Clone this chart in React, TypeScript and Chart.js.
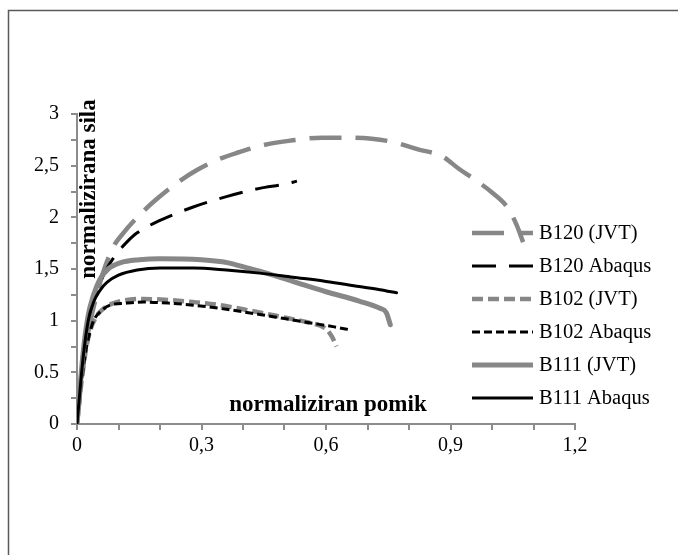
import React, { useEffect, useRef } from 'react';
import { Chart, registerables } from 'chart.js';

Chart.register(...registerables);

const seriesNames = ['B120 (JVT)', 'B120 Abaqus', 'B102 (JVT)', 'B102 Abaqus', 'B111 (JVT)', 'B111 Abaqus'];

const b120JvtX = [0, 0.01, 0.02, 0.03, 0.04, 0.05, 0.06, 0.087, 0.11, 0.15, 0.19, 0.24, 0.29, 0.34, 0.39, 0.45, 0.51, 0.59, 0.65, 0.71, 0.76, 0.82, 0.88, 0.92, 0.96, 1.0, 1.04, 1.06, 1.075];
const b120JvtY = [0, 0.4, 0.72, 0.95, 1.13, 1.28, 1.43, 1.71, 1.84, 2.02, 2.17, 2.33, 2.46, 2.56, 2.63, 2.7, 2.74, 2.77, 2.77, 2.76, 2.73, 2.66, 2.59, 2.47, 2.36, 2.24, 2.08, 1.92, 1.76];

const b120AbqX = [0, 0.015, 0.027, 0.04, 0.055, 0.07, 0.092, 0.12, 0.145, 0.2, 0.28, 0.36, 0.44, 0.5, 0.53];
const b120AbqY = [0, 0.65, 1.0, 1.2, 1.36, 1.49, 1.63, 1.76, 1.85, 1.97, 2.1, 2.2, 2.28, 2.32, 2.35];

const b102JvtX = [0, 0.01, 0.02, 0.03, 0.045, 0.065, 0.096, 0.16, 0.22, 0.28, 0.345, 0.4, 0.44, 0.5, 0.56, 0.6, 0.615, 0.625];
const b102JvtY = [0, 0.38, 0.68, 0.88, 1.03, 1.12, 1.18, 1.21, 1.2, 1.18, 1.15, 1.11, 1.08, 1.03, 0.98, 0.92, 0.84, 0.75];

const b102AbqX = [0, 0.01, 0.02, 0.03, 0.04, 0.06, 0.08, 0.12, 0.16, 0.22, 0.28, 0.36, 0.44, 0.5, 0.56, 0.62, 0.66];
const b102AbqY = [0, 0.38, 0.68, 0.87, 1.0, 1.1, 1.15, 1.17, 1.18, 1.17, 1.15, 1.11, 1.06, 1.02, 0.98, 0.94, 0.91];

const b111JvtX = [0, 0.015, 0.027, 0.04, 0.055, 0.075, 0.104, 0.15, 0.2, 0.3, 0.35, 0.375, 0.41, 0.44, 0.52, 0.6, 0.68, 0.73, 0.745, 0.755];
const b111JvtY = [0, 0.7, 1.05, 1.25, 1.4, 1.5, 1.56, 1.59, 1.6, 1.59, 1.57, 1.55, 1.51, 1.48, 1.38, 1.28, 1.19, 1.12, 1.08, 0.96];

const b111AbqX = [0, 0.015, 0.027, 0.04, 0.055, 0.072, 0.1, 0.145, 0.2, 0.28, 0.36, 0.44, 0.52, 0.6, 0.68, 0.73, 0.77];
const b111AbqY = [0, 0.65, 1.0, 1.18, 1.29, 1.37, 1.44, 1.49, 1.51, 1.51, 1.49, 1.46, 1.42, 1.38, 1.33, 1.3, 1.27];

const xTickLabels = ['0', '0,3', '0,6', '0,9', '1,2'];
const yTickLabels = ['0', '0.5', '1', '1,5', '2', '2,5', '3'];

const yTitle = 'normalizirana sila';
const xTitle = 'normaliziran pomik';

const GRAY = '#878787';
const AXIS = '#8c8c8c';
const FONT = '"Liberation Serif", "Times New Roman", serif';

function pts(xs: number[], ys: number[]) {
  return xs.map((x, i) => ({ x, y: ys[i] }));
}

const overlayPlugin = {
  id: 'overlay',
  afterDraw(chart: any) {
    const ctx = chart.ctx as CanvasRenderingContext2D;
    const ca = chart.chartArea;
    ctx.save();
    // frame (left and top edges)
    ctx.strokeStyle = '#5a5a5a';
    ctx.lineWidth = 1.5;
    ctx.setLineDash([]);
    ctx.beginPath();
    ctx.moveTo(8.5, 555);
    ctx.lineTo(8.5, 10.5);
    ctx.lineTo(678, 10.5);
    ctx.stroke();

    // legend
    const lx0 = ca.left + 395;
    const lx1 = lx0 + 61;
    chart.data.datasets.forEach((ds: any, i: number) => {
      const y = 233 + i * 33;
      ctx.beginPath();
      ctx.strokeStyle = ds.borderColor;
      ctx.lineWidth = ds.borderWidth;
      ctx.lineCap = 'butt';
      ctx.setLineDash(ds.borderDash || []);
      ctx.moveTo(lx0, y);
      ctx.lineTo(lx1, y);
      ctx.stroke();
      ctx.setLineDash([]);
      ctx.fillStyle = '#000';
      ctx.font = '20.5px ' + FONT;
      ctx.textBaseline = 'middle';
      ctx.textAlign = 'left';
      ctx.fillText(ds.label, lx1 + 6, y + 1);
    });

    // axis titles
    ctx.fillStyle = '#000';
    ctx.font = 'bold 23px ' + FONT;
    ctx.textAlign = 'center';
    ctx.textBaseline = 'middle';
    ctx.fillText(xTitle, 328, 405);
    ctx.translate(89, 189);
    ctx.rotate(-Math.PI / 2);
    ctx.fillText(yTitle, 0, 0);
    ctx.restore();
  },
};

export default function App() {
  const ref = useRef<HTMLCanvasElement>(null);
  useEffect(() => {
    document.body.style.margin = '0';
    const styles = [
      { color: GRAY, width: 4.5, dash: [32, 14] },
      { color: '#000', width: 3, dash: [24, 13] },
      { color: GRAY, width: 4.5, dash: [11, 5] },
      { color: '#000', width: 3, dash: [8, 4] },
      { color: GRAY, width: 5, dash: [] as number[] },
      { color: '#000', width: 3, dash: [] as number[] },
    ];
    const data = [
      pts(b120JvtX, b120JvtY),
      pts(b120AbqX, b120AbqY),
      pts(b102JvtX, b102JvtY),
      pts(b102AbqX, b102AbqY),
      pts(b111JvtX, b111JvtY),
      pts(b111AbqX, b111AbqY),
    ];
    const chart = new Chart(ref.current!, {
      type: 'line',
      data: {
        datasets: seriesNames.map((name, i) => ({
          label: name,
          data: data[i],
          borderColor: styles[i].color,
          borderWidth: styles[i].width,
          borderDash: styles[i].dash,
          borderCapStyle: styles[i].dash.length ? 'butt' : 'round',
          borderJoinStyle: 'round',
          pointRadius: 0,
          fill: false,
          cubicInterpolationMode: 'monotone',
          order: -i,
        })) as any,
      },
      options: {
        animation: false,
        responsive: false,
        layout: { padding: { left: 0, top: 114, right: 103, bottom: 91 } },
        plugins: { legend: { display: false }, tooltip: { enabled: false } },
        scales: {
          x: {
            type: 'linear',
            min: 0,
            max: 1.2,
            afterFit: (s: any) => { s.height = 40; },
            border: { color: AXIS, width: 2 },
            grid: { drawOnChartArea: false, drawTicks: true, tickLength: 6, color: AXIS, lineWidth: 2 },
            ticks: {
              stepSize: 0.1,
              autoSkip: false,
              maxRotation: 0,
              padding: 4,
              color: '#000',
              font: { family: FONT, size: 20 },
              callback: (v: any) => {
                const k = Math.round(Number(v) * 10);
                return k % 3 === 0 ? xTickLabels[k / 3] : '';
              },
            },
          },
          y: {
            type: 'linear',
            min: 0,
            max: 3,
            afterFit: (s: any) => { s.width = 77; },
            border: { color: AXIS, width: 2 },
            grid: { drawOnChartArea: false, drawTicks: true, tickLength: 6, color: AXIS, lineWidth: 2 },
            ticks: {
              stepSize: 0.25,
              autoSkip: false,
              padding: 12,
              color: '#000',
              font: { family: FONT, size: 20 },
              callback: (v: any) => {
                const k = Math.round(Number(v) * 4);
                return k % 2 === 0 ? yTickLabels[k / 2] : '';
              },
            },
          },
        },
      },
      plugins: [overlayPlugin],
    });
    return () => chart.destroy();
  }, []);
  return <canvas ref={ref} width={678} height={555} style={{ display: 'block' }} />;
}
